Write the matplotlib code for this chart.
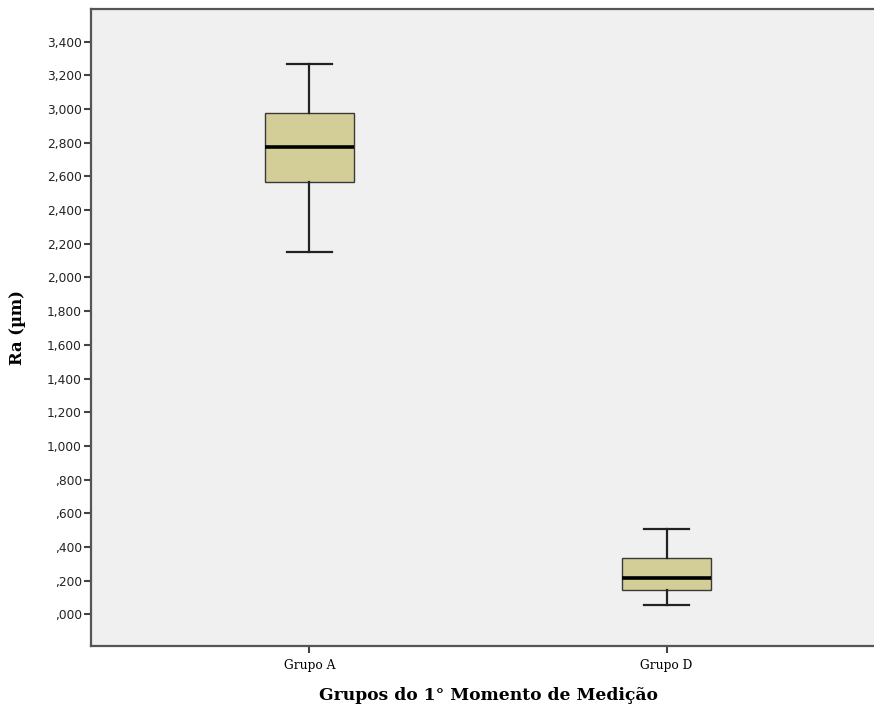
import matplotlib
matplotlib.use("Agg")
import matplotlib.pyplot as plt
from matplotlib.ticker import FuncFormatter
import numpy as np

grupos = ["Grupo A", "Grupo D"]
whisker_baixo = [2.153, 0.057]
q1 = [2.567, 0.144]
mediana = [2.775, 0.214]
q3 = [2.978, 0.332]
whisker_alto = [3.268, 0.505]

y_ticks = np.arange(0, 3.401, 0.2)


def formata_virgula(v, pos):
    # estilo SPSS: virgula decimal e sem o zero inicial
    s = "{:.3f}".format(v).replace(".", ",")
    if s.startswith("0,"):
        s = s[1:]
    return s


stats = []
for i, g in enumerate(grupos):
    stats.append(dict(label=g, whislo=whisker_baixo[i], q1=q1[i], med=mediana[i],
                      q3=q3[i], whishi=whisker_alto[i], fliers=[]))

fig = plt.figure(figsize=(8.74, 7.13), dpi=100)
# o eixo passa da borda direita da figura, como na imagem original
ax = fig.add_axes([91 / 874, 1 - 646 / 713, (885 - 91) / 874, (646 - 9) / 713])
ax.set_facecolor("#F0F0F0")

ax.bxp(stats, positions=[1, 2], widths=0.252, patch_artist=True, showfliers=False,
       boxprops=dict(facecolor="#D3CE98", edgecolor="#3a3a3a", linewidth=1.0),
       medianprops=dict(color="black", linewidth=2.6),
       whiskerprops=dict(color="#222222", linewidth=1.6),
       capprops=dict(color="#222222", linewidth=1.6),
       capwidths=0.126)

ax.set_xlim(0.388, 2.612)
ax.set_ylim(-0.188, 3.594)
ax.set_yticks(y_ticks)
ax.yaxis.set_major_formatter(FuncFormatter(formata_virgula))
ax.set_xticks([1, 2])
ax.set_xticklabels(grupos, family="DejaVu Serif", fontsize=8.8)
for t in ax.get_yticklabels():
    t.set_family("DejaVu Sans")
    t.set_fontsize(8.8)
    t.set_color("#222222")

ax.tick_params(axis="both", length=5, width=1.5, color="#444444", pad=1.5)
ax.tick_params(axis="x", pad=4)
for lado in ["left", "bottom", "top"]:
    ax.spines[lado].set_color("#555555")
    ax.spines[lado].set_linewidth(1.6)
ax.spines["right"].set_visible(False)

ax.set_ylabel("Ra (µm)", family="DejaVu Serif", fontweight="bold", fontsize=11.8)
ax.yaxis.set_label_coords(-(91 - 18) / (885 - 91), (646 - 328) / (646 - 9))
ax.set_xlabel("Grupos do 1° Momento de Medição", family="DejaVu Serif", fontweight="bold",
              fontsize=12.3)
ax.xaxis.set_label_coords((488 - 91) / (885 - 91), -(696 - 646) / (646 - 9))
ax.xaxis.label.set_va("center")
ax.yaxis.label.set_va("center")

plt.savefig("out.png", dpi=100)
plt.close()
